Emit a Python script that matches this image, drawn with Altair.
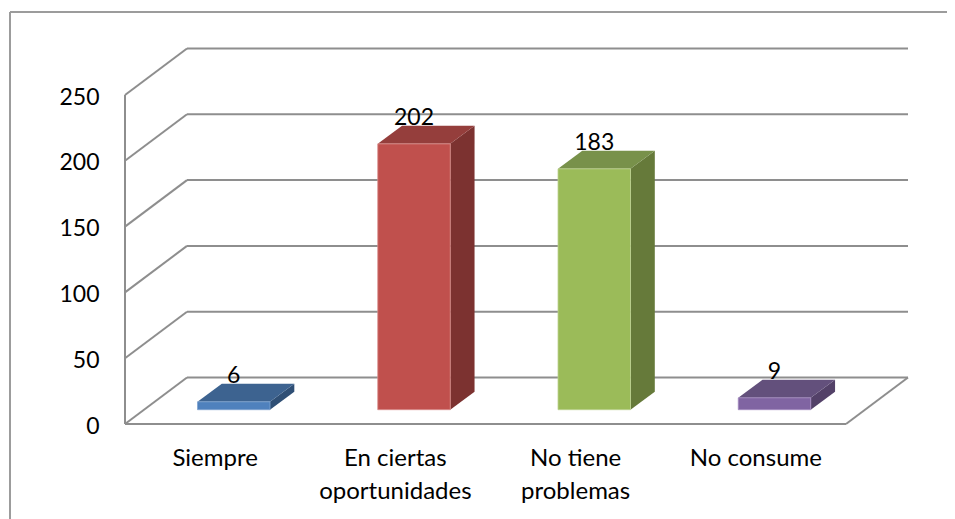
import altair as alt
import pandas as pd

categories = ["Siempre", "En ciertas\noportunidades", "No tiene\nproblemas", "No consume"]
values = [6, 202, 183, 9]
front_colors = ["#4F81BD", "#C0504D", "#9BBB59", "#8064A2"]
edge_colors = ["#7FA3D0", "#D98E8C", "#BCD28F", "#A48CC0"]
top_colors = ["#3D6390", "#953E3C", "#78914A", "#63507C"]
side_colors = ["#2F4F75", "#7C3230", "#667A3A", "#534168"]
y_ticks = [0, 50, 100, 150, 200, 250]

PX_U = 180.25   # pixels per category
PX_V = 1.316    # pixels per value unit
WALL_DX = 62 / PX_U
WALL_DV = 46.5 / PX_V
MAX_V = 250
N = len(categories)
BAR_W = 72.5 / PX_U
BAR_START = 72.5 / PX_U
BASE_V = 14.3 / PX_V
BAR_DX = 24.3 / PX_U
BAR_DV = 18 / PX_V

W, H = 782, 376
xs = alt.Scale(domain=[0, W / PX_U], nice=False, zero=False)
ys = alt.Scale(domain=[0, H / PX_V], nice=False, zero=False)
y_axis = alt.Axis(values=y_ticks, domain=False, ticks=False, grid=False, title=None,
                  labelFont="Lato", labelFontSize=23, labelColor="#000000", labelPadding=26,
                  labelOffset=2)
X = lambda f: alt.X(f, type="quantitative", scale=xs, axis=None)
Y = lambda f: alt.Y(f, type="quantitative", scale=ys, axis=y_axis)

GRID = "#8E8E8E"

# wall grid
grid_rows = []
for v in y_ticks:
    grid_rows.append(dict(x=0, x2=WALL_DX, y=v, y2=v + WALL_DV))
    grid_rows.append(dict(x=WALL_DX, x2=N + WALL_DX, y=v + WALL_DV, y2=v + WALL_DV))
grid_rows.append(dict(x=0, x2=0, y=0, y2=MAX_V))
grid_rows.append(dict(x=0, x2=N, y=0, y2=0))
grid_rows.append(dict(x=N, x2=N + WALL_DX, y=0, y2=WALL_DV))
grid = alt.Chart(pd.DataFrame(grid_rows)).mark_rule(color=GRID, strokeWidth=2).encode(
    x=X("x"), x2="x2", y=Y("y"), y2="y2")

frame = alt.Chart(pd.DataFrame({"k": [0, 1]})).mark_rule(color="#9C9C9C", strokeWidth=2)
frame_left = frame.encode(x=alt.value(-115), y=alt.value(-36), y2=alt.value(471))
frame_top = frame.encode(y=alt.value(-36), x=alt.value(-115), x2=alt.value(830))

front_rows, top_rows, side_rows, label_rows = [], [], [], []
for i, (c, v) in enumerate(zip(categories, values)):
    L = i + BAR_START
    R = L + BAR_W
    front_rows.append(dict(c=c, l=L, r=R, b=BASE_V, t=BASE_V + v, col=front_colors[i], edge=edge_colors[i]))
    top_rows += [dict(c=c, y=BASE_V + v, l=L, r=R, col=top_colors[i]),
                 dict(c=c, y=BASE_V + v + BAR_DV, l=L + BAR_DX, r=R + BAR_DX, col=top_colors[i])]
    side_rows += [dict(c=c, x=R, b=BASE_V, t=BASE_V + v, col=side_colors[i]),
                  dict(c=c, x=R + BAR_DX, b=BASE_V + BAR_DV, t=BASE_V + v + BAR_DV, col=side_colors[i])]
    label_rows.append(dict(c=c, x=(L + R) / 2, y=BASE_V + v + BAR_DV, v=v, lx=i + 0.5))

side = alt.Chart(pd.DataFrame(side_rows)).mark_area(orient="vertical").encode(
    x=X("x"), y=Y("b"), y2="t", detail="c:N", color=alt.Color("col:N", scale=None))
top = alt.Chart(pd.DataFrame(top_rows)).mark_area(orient="horizontal").encode(
    y=Y("y"), x=X("l"), x2="r", detail="c:N", color=alt.Color("col:N", scale=None))
front = alt.Chart(pd.DataFrame(front_rows)).mark_rect(strokeWidth=0.8).encode(
    x=X("l"), x2="r", y=Y("b"), y2="t", color=alt.Color("col:N", scale=None),
    stroke=alt.Stroke("edge:N", scale=None))

labels_df = pd.DataFrame(label_rows)
value_labels = alt.Chart(labels_df).mark_text(
    font="Lato", fontSize=23, color="#000000", baseline="middle", dy=-8
).encode(x=X("x"), y=Y("y"), text="v:Q")
cat_labels = alt.Chart(labels_df).mark_text(
    font="Lato", fontSize=24, color="#000000", baseline="top", lineBreak="\n", lineHeight=33.5, dy=22.5
).encode(x=X("lx"), y=Y("zero"), text="c:N").transform_calculate(zero="0")

chart = alt.layer(grid, frame_left, frame_top, side, top, front, value_labels, cat_labels).properties(
    width=W, height=H,
    autosize=alt.AutoSizeParams(type="none"),
    padding={"left": 117, "top": 40, "right": 40, "bottom": 95},
    background="#FFFFFF",
).configure_view(stroke=None)

chart.save("out.html", embed_options={"renderer": "svg", "actions": False})
